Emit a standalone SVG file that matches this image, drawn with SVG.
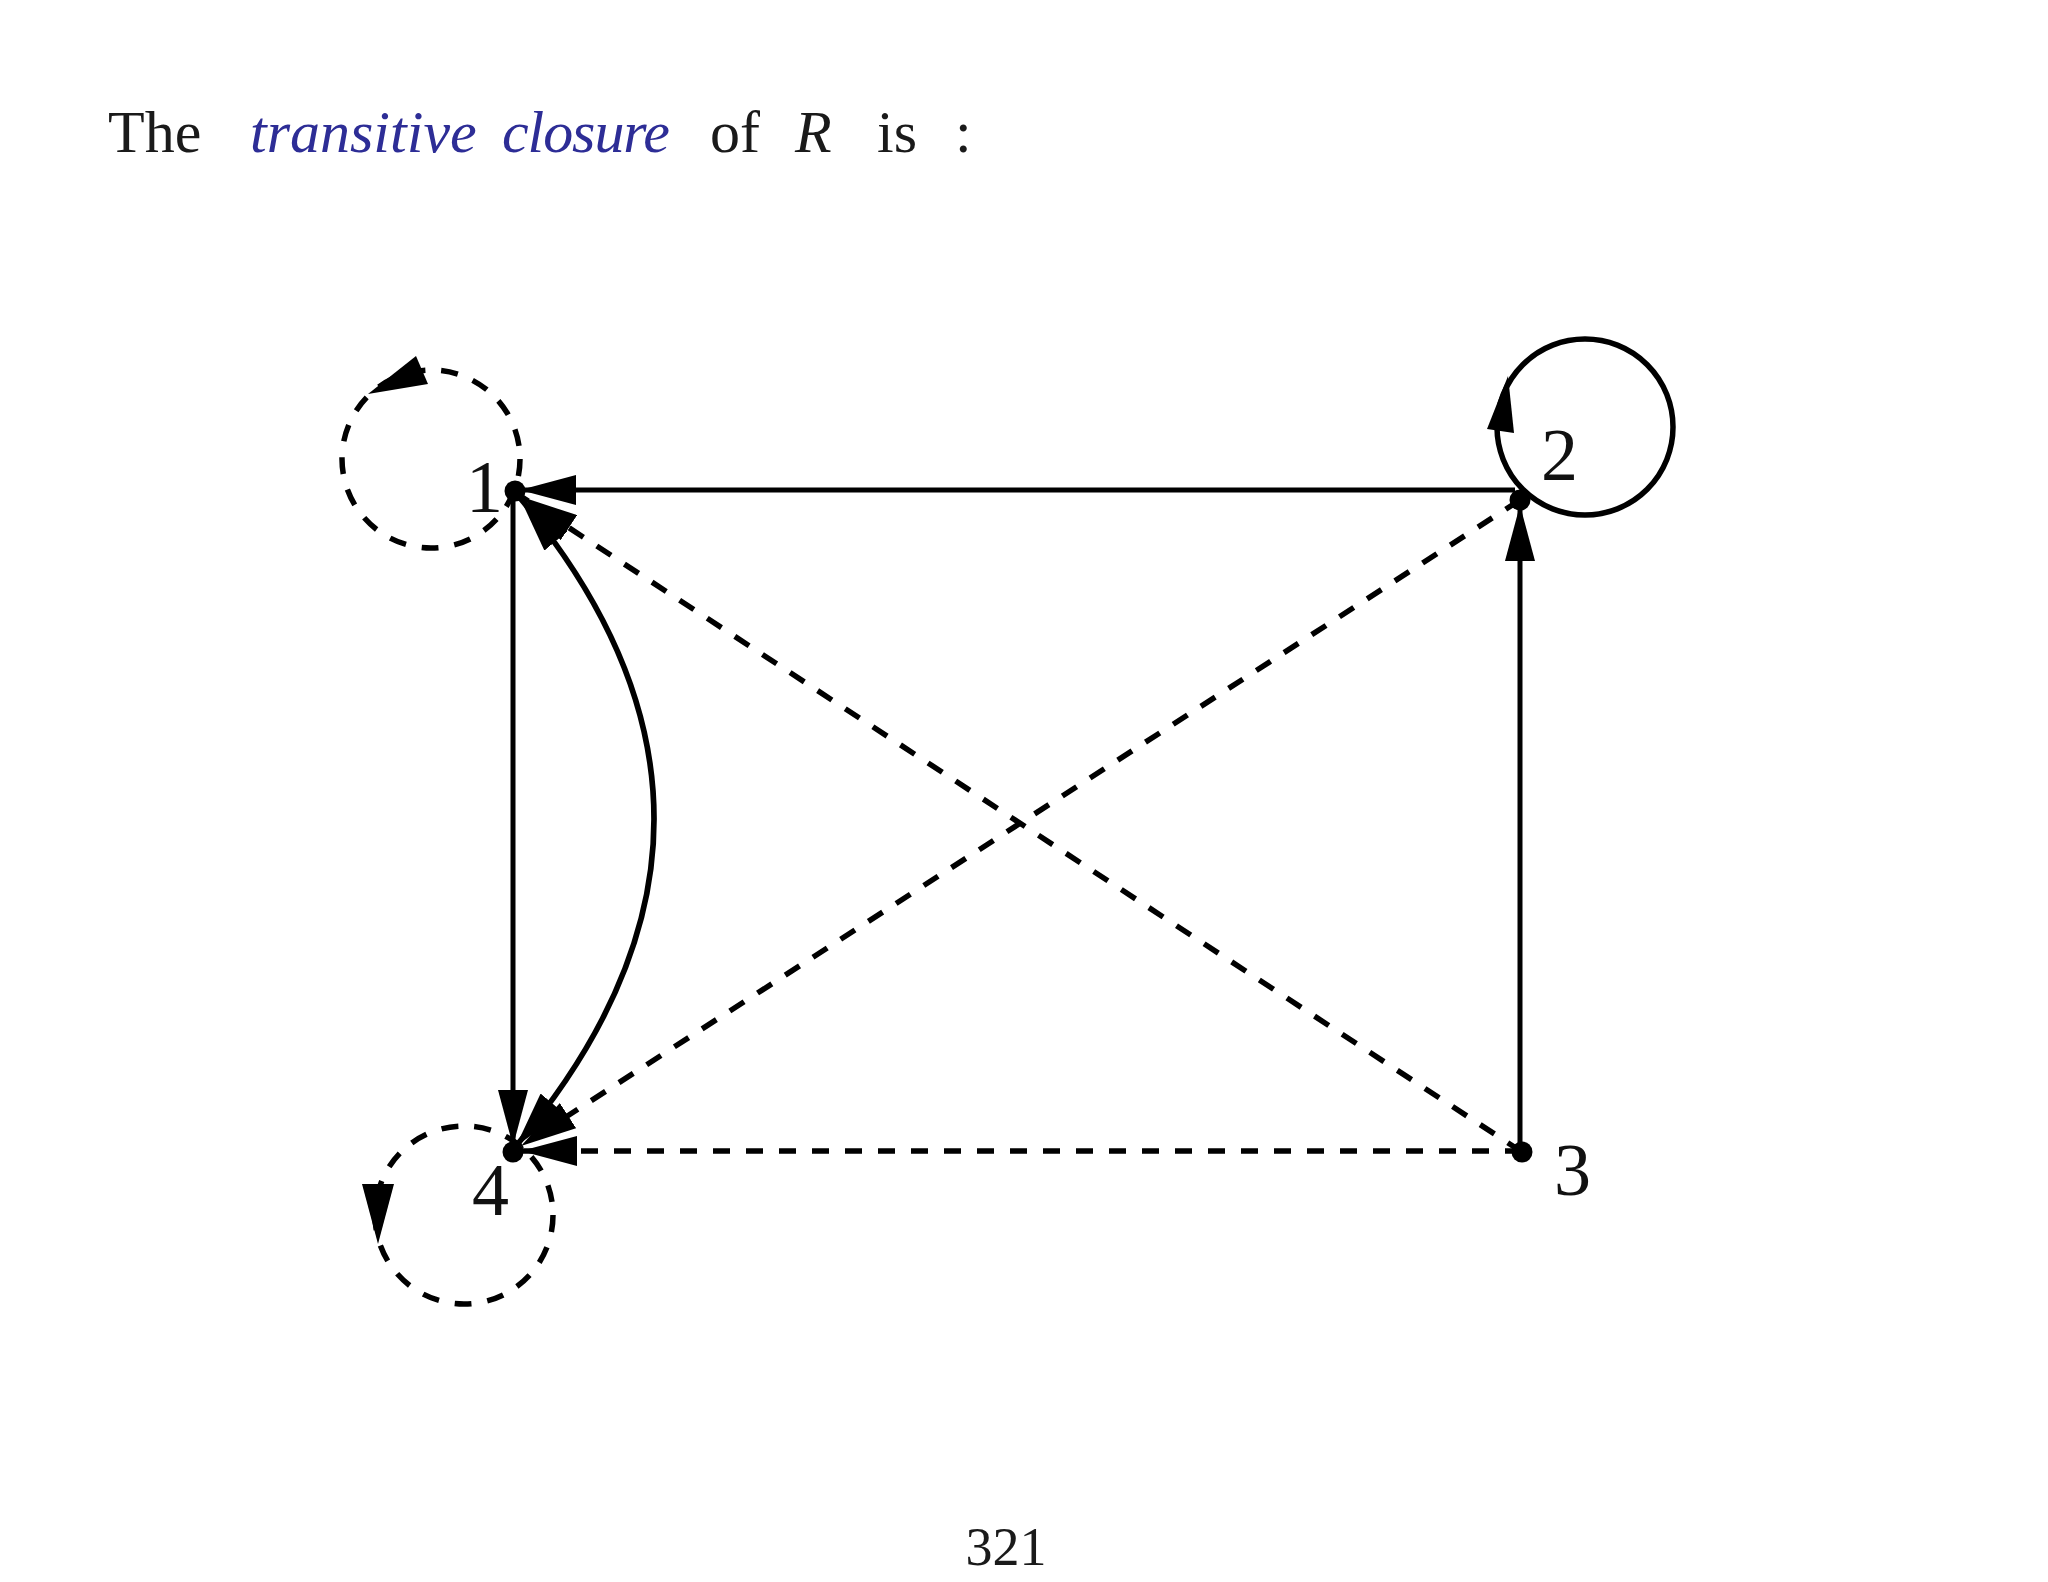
<svg xmlns="http://www.w3.org/2000/svg" width="2048" height="1582" viewBox="0 0 2048 1582">
<style>
.t{font-family:"Liberation Serif","Times New Roman",serif;font-size:60px;fill:#1a1a1a}
.b{fill:#2d2d96;font-style:italic}
.i{font-style:italic}
.lbl{font-family:"Liberation Serif","Times New Roman",serif;font-size:74px;fill:#111}
.pg{font-family:"Liberation Serif","Times New Roman",serif;font-size:54px;fill:#1a1a1a}
.solid{fill:none;stroke:#000;stroke-width:5}
.dash{fill:none;stroke:#000;stroke-width:5.5;stroke-dasharray:17 16}
.dot{fill:#000}
</style>
<defs>
<marker id="ah" viewBox="0 0 56 30" refX="56" refY="15" markerWidth="56" markerHeight="30" markerUnits="userSpaceOnUse" orient="auto-start-reverse">
<path d="M0,0 L56,15 L0,30 z" fill="#000"/>
</marker>
</defs>
<rect width="2048" height="1582" fill="#fff"/>
<g id="title">
<text class="t" x="108" y="152">The</text>
<text class="t b" x="250" y="152">transitive</text>
<text class="t b" x="502" y="152" textLength="168">closure</text>
<text class="t" x="710" y="152">of</text>
<text class="t i" x="795" y="152">R</text>
<text class="t" x="877" y="152">is</text>
<text class="t" x="955" y="152">:</text>
</g>
<g id="connectors">
<line class="solid" x1="1515" y1="490" x2="520" y2="490" marker-end="url(#ah)"/>
<line class="solid" x1="1520" y1="1152" x2="1520" y2="505" marker-end="url(#ah)"/>
<line class="solid" x1="513" y1="491" x2="513" y2="1146" marker-end="url(#ah)"/>
<path class="solid" style="stroke-width:5.5" d="M520 498 Q790 821 516 1146" marker-start="url(#ah)" marker-end="url(#ah)"/>
<line class="dash" x1="1522" y1="1152" x2="522" y2="497" marker-end="url(#ah)"/>
<line class="dash" x1="1520" y1="500" x2="521" y2="1146" marker-end="url(#ah)"/>
<line class="dash" x1="1522" y1="1151" x2="521" y2="1151" marker-end="url(#ah)"/>
<circle class="dash" cx="431" cy="459" r="89"/>
<polygon points="368,394 428,384 416,356" fill="#000"/>
<circle class="solid" style="stroke-width:5.5" cx="1585" cy="427" r="88"/>
<polygon points="1508,376 1487,429 1514,433" fill="#000"/>
<circle class="dash" cx="464" cy="1215" r="89"/>
<polygon points="378,1244 362,1184 394,1184" fill="#000"/>
</g>
<g id="node1">
<circle class="dot" cx="515" cy="491" r="10.5"/>
<text class="lbl" x="466" y="512">1</text>
</g>
<g id="node2">
<circle class="dot" cx="1520" cy="500" r="10.5"/>
<text class="lbl" x="1541" y="480">2</text>
</g>
<g id="node3">
<circle class="dot" cx="1522" cy="1152" r="10.5"/>
<text class="lbl" x="1554" y="1195">3</text>
</g>
<g id="node4">
<circle class="dot" cx="513" cy="1152" r="10.5"/>
<text class="lbl" x="472" y="1215">4</text>
</g>
<g id="page">
<text class="pg" x="1006" y="1565" text-anchor="middle">321</text>
</g>
</svg>
